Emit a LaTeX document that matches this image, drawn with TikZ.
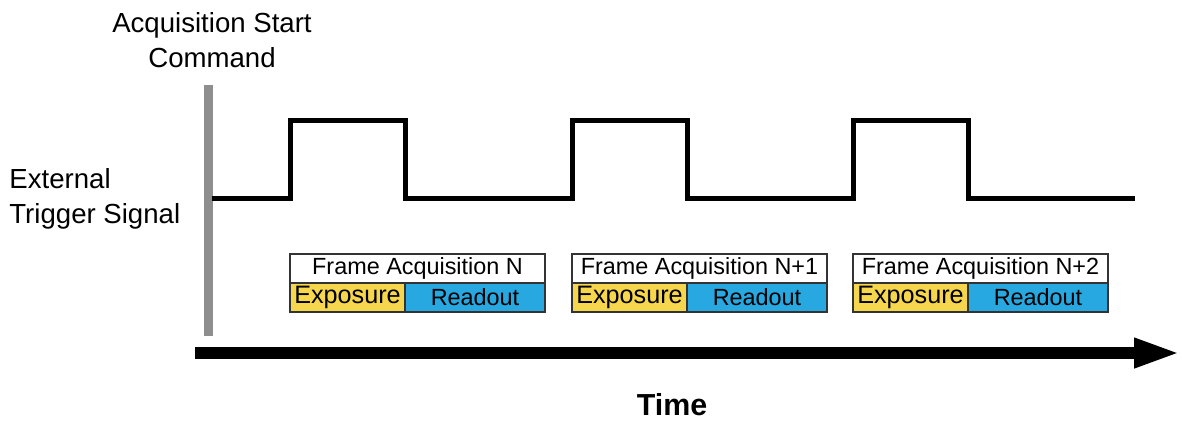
\documentclass[tikz,border=0pt]{standalone}
\usepackage{fontspec}
\setmainfont{Liberation Sans}
\usetikzlibrary{arrows.meta,positioning}
\definecolor{expoyellow}{HTML}{F6D64C}
\definecolor{readblue}{HTML}{27A8E0}
\definecolor{bargray}{HTML}{8E8E8E}
\tikzset{%
   lbl/.style={font=\fontsize{13.8}{17.5}\selectfont, inner sep=0pt},
   framebox/.style={draw=black!80, line width=0.7pt, inner sep=0pt, outer sep=0pt,
     minimum height=14.5pt, font=\fontsize{11.7}{14}\selectfont},
   frametitle/.style={framebox, fill=white, minimum width=127.5pt},
   expo/.style={framebox, fill=expoyellow, minimum width=57.5pt, font=\fontsize{12.6}{14}\selectfont},
   rdout/.style={framebox, fill=readblue, minimum width=70pt},
   sig/.style={line width=2.5pt, line join=miter},
}

\begin{document}
\begin{tikzpicture}[x=0.5pt, y=-0.5pt]
      \useasboundingbox (0,0) rectangle (1182,420);
      % labels
      \node[lbl, align=center] (start) at (212,40) {Acquisition Start\\Command};
      \node[lbl, align=left, anchor=west] (trig) at (9,199) {External\\Trigger Signal};
      \node[lbl, font=\fontsize{15.2}{18}\selectfont\bfseries] (time) at (672,405) {Time};
      % start command bar
      \coordinate (bartop) at (208,85);
      \coordinate (barbot) at (208,336);
      \draw[bargray, line width=4.5pt] (bartop) -- (barbot);
      % trigger signal
      \draw[sig] (212,198) -- (290,198) -- (290,120) -- (405,120) -- (405,198)
         -- (572,198) -- (572,120) -- (687,120) -- (687,198)
         -- (853,198) -- (853,120) -- (968,120) -- (968,198) -- (1135,198);
      % frames
      \node[frametitle, anchor=north west] (f1) at (290,254) {Frame Acquisition N};
      \node[expo, below right=0pt and 0pt of f1.south west] (e1) {Exposure};
      \node[rdout, right=0pt of e1] (r1) {Readout};
      \node[frametitle, anchor=north west] (f2) at (572,254) {Frame Acquisition N+1};
      \node[expo, below right=0pt and 0pt of f2.south west] (e2) {Exposure};
      \node[rdout, right=0pt of e2] (r2) {Readout};
      \node[frametitle, anchor=north west] (f3) at (853,254) {Frame Acquisition N+2};
      \node[expo, below right=0pt and 0pt of f3.south west] (e3) {Exposure};
      \node[rdout, right=0pt of e3] (r3) {Readout};
      % time axis
      \coordinate (t0) at (195,353);
      \coordinate (t1) at (1181,353);
      \draw[line width=6pt, -{Triangle[length=23.5pt, width=13.5pt]}] (t0) -- (t1);
   \end{tikzpicture}
\end{document}
